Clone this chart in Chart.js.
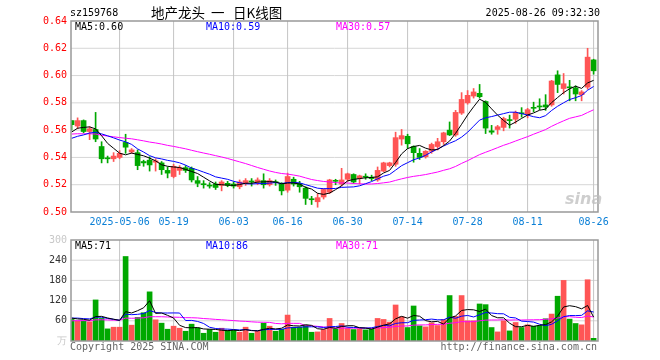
<!DOCTYPE html>
<html><head><meta charset="utf-8">
<script src="https://cdn.jsdelivr.net/npm/chart.js@4.4.1/dist/chart.umd.min.js"></script>
<style>
html,body{margin:0;padding:0;background:#fff;}
body{width:660px;height:360px;overflow:hidden;position:relative;font-family:"DejaVu Sans Mono",monospace;}
.t{position:absolute;white-space:nowrap;font-size:10px;line-height:12px;}
.cj{position:absolute;white-space:nowrap;font-family:'Noto Sans CJK SC';font-size:13.5px;line-height:16px;color:#000;top:4px;}
canvas{position:absolute;left:0;}
#c1{top:0;}
#c2{top:228px;}
</style></head><body>
<canvas id="c1" width="660" height="228"></canvas>
<canvas id="c2" width="660" height="132"></canvas>
<div class="t" style="left:70px;top:7px;color:#000">sz159768</div>
<div class="cj" style="left:151px">地产龙头</div>
<div class="cj" style="left:211px">一</div>
<div class="cj" style="left:233px">日K线图</div>
<div class="t" style="right:60px;top:7px;color:#000">2025-08-26 09:32:30</div>
<div class="t" id="pma5" style="left:75px;top:21px;color:#000"></div>
<div class="t" id="pma10" style="left:206px;top:21px;color:#0000ff"></div>
<div class="t" id="pma30" style="left:336px;top:21px;color:#ff00ff"></div>
<div class="t" id="vma5" style="left:75px;top:240px;color:#000"></div>
<div class="t" id="vma10" style="left:206px;top:240px;color:#0000ff"></div>
<div class="t" id="vma30" style="left:336px;top:240px;color:#ff00ff"></div>
<div class="t" style="left:70px;top:341px;color:#666">Copyright 2025 SINA.COM</div>
<div class="t" style="right:63px;top:341px;color:#666">http://finance.sina.com.cn</div>
<div class="t" style="left:565px;top:190px;font-family:'DejaVu Sans';font-style:italic;font-weight:bold;font-size:16px;line-height:18px;color:rgba(190,190,190,0.75)">sina</div>
<script>
// ---- data ----
const dates = [
'2025-04-21','2025-04-22','2025-04-23','2025-04-24','2025-04-25','2025-04-28','2025-04-29','2025-04-30',
'2025-05-06','2025-05-07','2025-05-08','2025-05-09','2025-05-12','2025-05-13','2025-05-14','2025-05-15','2025-05-16',
'2025-05-19','2025-05-20','2025-05-21','2025-05-22','2025-05-23','2025-05-26','2025-05-27','2025-05-28','2025-05-29','2025-05-30',
'2025-06-03','2025-06-04','2025-06-05','2025-06-06','2025-06-09','2025-06-10','2025-06-11','2025-06-12','2025-06-13',
'2025-06-16','2025-06-17','2025-06-18','2025-06-19','2025-06-20','2025-06-23','2025-06-24','2025-06-25','2025-06-26','2025-06-27',
'2025-06-30','2025-07-01','2025-07-02','2025-07-03','2025-07-04','2025-07-07','2025-07-08','2025-07-09','2025-07-10','2025-07-11',
'2025-07-14','2025-07-15','2025-07-16','2025-07-17','2025-07-18','2025-07-21','2025-07-22','2025-07-23','2025-07-24','2025-07-25',
'2025-07-28','2025-07-29','2025-07-30','2025-07-31','2025-08-01','2025-08-04','2025-08-05','2025-08-06','2025-08-07','2025-08-08',
'2025-08-11','2025-08-12','2025-08-13','2025-08-14','2025-08-15','2025-08-18','2025-08-19','2025-08-20','2025-08-21','2025-08-22',
'2025-08-25','2025-08-26'];
const opens = [.567,.563,.567,.559,.5605,.548,.5395,.539,.540,.551,.544,.5435,.537,.538,.5365,.536,.5305,
.526,.5305,.5325,.532,.523,.5205,.5195,.5205,.5195,.521,
.5205,.5185,.521,.5225,.522,.523,.520,.522,.521,
.516,.524,.521,.5175,.5095,.5075,.511,.5145,.523,.5205,
.524,.5275,.5245,.526,.5255,.5235,.530,.534,.535,.5535,
.5555,.548,.543,.5405,.5445,.548,.5515,.560,.5565,.5725,
.580,.585,.587,.581,.5595,.5605,.562,.5675,.568,.5725,
.5715,.5765,.5775,.5785,.5785,.6005,.5905,.5915,.591,.586,
.5915,.6115];
const highs = [.567,.569,.5675,.5625,.573,.5515,.541,.5435,.545,.557,.5465,.5455,.538,.5405,.539,.537,.533,
.535,.534,.534,.533,.526,.523,.5215,.522,.523,.5225,
.522,.5235,.5245,.5245,.525,.528,.5245,.5235,.5215,
.5285,.5255,.5225,.5185,.5115,.5135,.517,.524,.524,.532,
.5285,.528,.527,.528,.527,.533,.5365,.5365,.5585,.5605,
.557,.5485,.5465,.545,.5505,.554,.5585,.566,.5745,.5875,
.589,.5905,.5935,.5815,.5635,.5635,.5695,.571,.574,.5765,
.576,.5805,.583,.586,.5965,.6035,.6015,.5965,.5925,.589,
.620,.612];
const lows = [.560,.561,.558,.553,.5515,.536,.536,.537,.539,.543,.543,.531,.5335,.530,.530,.5275,.525,
.525,.5275,.529,.522,.5185,.5175,.5175,.5165,.5155,.5185,
.5175,.517,.5195,.519,.520,.5175,.519,.5195,.5125,
.5145,.519,.5145,.5055,.5055,.5035,.5095,.5135,.520,.519,
.5225,.521,.5205,.524,.523,.5225,.5295,.533,.5335,.549,
.5465,.5365,.5385,.5395,.543,.5455,.5495,.556,.5555,.5715,
.579,.5835,.5835,.5575,.557,.557,.5595,.5615,.565,.5695,
.569,.5735,.575,.5745,.5775,.5875,.5865,.5815,.5815,.5815,
.590,.601];
const closes = [.564,.567,.559,.561,.5535,.539,.539,.541,.543,.5475,.5455,.534,.536,.5345,.5375,.531,.5285,
.5335,.5325,.5305,.5235,.521,.520,.519,.518,.522,.5195,
.519,.522,.523,.522,.5235,.520,.523,.5215,.5155,
.526,.5205,.5185,.510,.509,.5105,.5165,.5235,.5225,.5235,
.528,.522,.5265,.5255,.5245,.5305,.536,.536,.5545,.556,
.550,.5435,.540,.5445,.5495,.5515,.558,.5565,.573,.5825,
.5855,.588,.5845,.5615,.5585,.5625,.5685,.567,.573,.572,
.575,.576,.577,.577,.596,.5935,.594,.591,.5865,.588,
.6135,.6035];
const volumes = [64,60,60,57,122,67,36,41,41,251,47,70,84,146,63,53,35,
44,38,29,50,39,23,34,26,38,32,
32,26,41,23,29,53,44,29,35,
77,41,41,47,26,27,34,67,36,52,
38,34,36,33,35,67,64,56,107,72,
40,104,45,42,54,46,64,135,73,135,
60,60,110,108,40,27,60,30,55,40,
48,44,46,66,80,133,180,65,52,48,
182,8];
// closes / volumes of the 29 sessions before the window (estimated so the MA lines start where the picture shows)
const priorCloses = [.560,.562,.558,.561,.563,.559,.557,.560,.562,.558,.556,.559,.561,.557,.555,.558,.556,.559,.557,.556,
.552,.549,.547,.548,.551,.553,.556,.559,.561];
const priorVolumes = [50,55,62,48,58,53,60,57,52,61,55,58,50,63,54,57,59,52,60,56,
60,75,65,70,70,72,66,70,68];
const xTickLabels = ['2025-05-06','05-19','06-03','06-16','06-30','07-14','07-28','08-11','08-26'];
const priceTicks = [0.50,0.52,0.54,0.56,0.58,0.60,0.62,0.64];
const volumeTicks = [0,60,120,180,240,300];

// ---- helpers ----
function movingAvg(prior, vals, n){
  const all = prior.concat(vals), off = prior.length;
  return vals.map((_, i) => {
    let s = 0; for (let k = off + i - n + 1; k <= off + i; k++) s += all[k];
    return s / n;
  });
}
const N = closes.length;
const idx = closes.map((_, i) => i);
const tickIdx = xTickLabels.map(l => dates.findIndex(d => d.endsWith(l)));
const RED = '#ff5555', GREEN = '#00a800';
const up = i => closes[i] >= opens[i];
const colorAt = c => up(c.dataIndex) ? RED : GREEN;

const pMA5 = movingAvg(priorCloses, closes, 5), pMA10 = movingAvg(priorCloses, closes, 10), pMA30 = movingAvg(priorCloses, closes, 30);
const vMA5 = movingAvg(priorVolumes, volumes, 5), vMA10 = movingAvg(priorVolumes, volumes, 10), vMA30 = movingAvg(priorVolumes, volumes, 30);
document.getElementById('pma5').textContent = 'MA5:' + pMA5[N-1].toFixed(2);
document.getElementById('pma10').textContent = 'MA10:' + pMA10[N-1].toFixed(2);
document.getElementById('pma30').textContent = 'MA30:' + pMA30[N-1].toFixed(2);
document.getElementById('vma5').textContent = 'MA5:' + Math.round(vMA5[N-1]);
document.getElementById('vma10').textContent = 'MA10:' + Math.round(vMA10[N-1]);
document.getElementById('vma30').textContent = 'MA30:' + Math.round(vMA30[N-1]);

const XMIN = -0.1, XMAX = XMIN + 527/6;
// grid lines as library line datasets (drawn behind the marks)
function gridDatasets(yTicks){
  const ds = [];
  const y0 = yTicks[0], y1 = yTicks[yTicks.length - 1];
  tickIdx.forEach(v => ds.push({type:'line', data:[{x:v, y:y0}, {x:v, y:y1}], borderColor:'#c4c4c4', borderWidth:1,
    pointRadius:0, fill:false, order:10}));
  yTicks.slice(1, -1).forEach(v => ds.push({type:'line', data:[{x:XMIN, y:v}, {x:XMAX, y:v}], borderColor:'#d6d6d6', borderWidth:1,
    pointRadius:0, fill:false, order:10}));
  return ds;
}
const frame = {
  id: 'frameBox',
  afterDraw(chart){
    const a = chart.chartArea, ctx = chart.ctx;
    ctx.save();
    ctx.strokeStyle = '#999'; ctx.lineWidth = 1.5;
    ctx.strokeRect(Math.round(a.left), Math.round(a.top), Math.round(a.right - a.left), Math.round(a.bottom - a.top));
    ctx.restore();
  }
};
const lineDs = (data, color) => ({type:'line', data: idx.map(i => ({x:i, y:data[i]})), borderColor: color, borderWidth: 1,
  pointRadius: 0, tension: 0, fill: false, order: 0});
const xScale = (showLabels) => ({
  type: 'linear', min: XMIN, max: XMAX, offset: false,
  afterBuildTicks: s => { s.ticks = tickIdx.map(v => ({value: v})); },
  afterFit: s => { s.height = showLabels ? 16 : 0; },
  ticks: {display: showLabels, autoSkip: false, maxRotation: 0, padding: 4, color: '#0a7fd6',
    font: {family: 'DejaVu Sans Mono', size: 10},
    callback: v => { const k = tickIdx.indexOf(v); return k >= 0 ? xTickLabels[k] : ''; }},
  grid: {display: false, offset: false, drawTicks: false},
  border: {display: false}
});

Chart.defaults.animation = false;
new Chart(document.getElementById('c1'), {
  type: 'bar',
  data: {datasets: [
    lineDs(pMA5, '#000000'), lineDs(pMA10, '#0000ff'), lineDs(pMA30, '#ff00ff'),
    {type:'bar', data: idx.map(i => ({x:i, y:[lows[i], highs[i]]})), barThickness: 1, grouped: false,
      backgroundColor: colorAt, order: 2},
    {type:'bar', data: idx.map(i => ({x:i, y:[opens[i], closes[i]]})), barThickness: 5, minBarLength: 1, grouped: false,
      backgroundColor: colorAt, order: 1},
    ...gridDatasets(priceTicks)
  ]},
  options: {
    responsive: false, devicePixelRatio: 1, animation: false,
    layout: {padding: {left: 0, right: 62, top: 21, bottom: 0}},
    plugins: {legend: {display: false}, tooltip: {enabled: false}},
    scales: {
      x: xScale(true),
      y: {type: 'linear', min: 0.50, max: 0.64,
        afterBuildTicks: s => { s.ticks = priceTicks.map(v => ({value: v})); },
        afterFit: s => { s.width = 71; },
        ticks: {color: '#ff0000', padding: 4, font: {family: 'DejaVu Sans Mono', size: 10}, callback: v => v.toFixed(2)},
        grid: {display: false, drawTicks: false},
        border: {display: false}}
    }
  },
  plugins: [frame]
});

new Chart(document.getElementById('c2'), {
  type: 'bar',
  data: {datasets: [
    lineDs(vMA5, '#000000'), lineDs(vMA10, '#0000ff'), lineDs(vMA30, '#ff00ff'),
    {type:'bar', data: idx.map(i => ({x:i, y:volumes[i]})), barThickness: 5, grouped: false, backgroundColor: colorAt, order: 1},
    ...gridDatasets(volumeTicks)
  ]},
  options: {
    responsive: false, devicePixelRatio: 1, animation: false,
    layout: {padding: {left: 0, right: 62, top: 12, bottom: 19}},
    plugins: {legend: {display: false}, tooltip: {enabled: false}},
    scales: {
      x: xScale(false),
      y: {type: 'linear', min: 0, max: 300,
        afterBuildTicks: s => { s.ticks = volumeTicks.map(v => ({value: v})); },
        afterFit: s => { s.width = 71; },
        ticks: {color: ctx => (ctx.tick && (ctx.tick.value === 300 || ctx.tick.value === 0)) ? '#c8c8c8' : '#333',
          padding: 4, font: {family: 'DejaVu Sans Mono', size: 10},
          callback: v => v === 0 ? '万' : String(v)},
        grid: {display: false, drawTicks: false},
        border: {display: false}}
    }
  },
  plugins: [frame]
});
</script>
</body></html>
